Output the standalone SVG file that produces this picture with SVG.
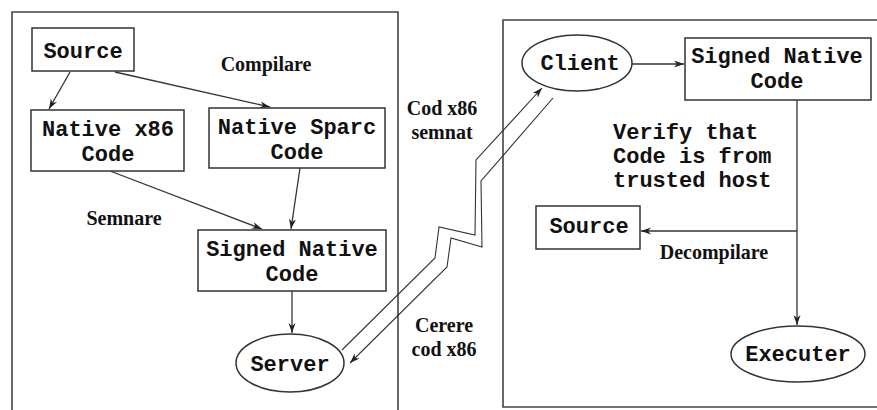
<svg xmlns="http://www.w3.org/2000/svg" width="877" height="410" viewBox="0 0 877 410">
<defs>
<marker id="arr" viewBox="0 0 10 8" refX="10" refY="4" markerWidth="10" markerHeight="8" markerUnits="userSpaceOnUse" orient="auto">
<path d="M0,0.5 L10,4 L0,7.5 L3,4 z" fill="#222"/>
</marker>
<style>
.panel{fill:none;stroke:#444;stroke-width:1.6}
.box{fill:#fff;stroke:#333;stroke-width:1.5}
.node{font-family:"Liberation Mono","DejaVu Sans Mono",monospace;font-weight:bold;font-size:22px;fill:#111;text-anchor:middle}
.lbl{font-family:"Liberation Serif","DejaVu Serif",serif;font-weight:bold;font-size:20px;fill:#111;text-anchor:middle}
.con{fill:none;stroke:#333;stroke-width:1.3}
.zig{fill:none;stroke:#333;stroke-width:1.1}
</style>
</defs>
<rect width="877" height="410" fill="#fff"/>
<g id="panels">
<path class="panel" d="M12,412 V12 H398 V412"/>
<path class="panel" d="M880,20 H503 V407 H880"/>
</g>
<g id="connectors">
<line class="con" x1="70" y1="72" x2="49" y2="109" marker-end="url(#arr)"/>
<line class="con" x1="115" y1="72" x2="270" y2="107" marker-end="url(#arr)"/>
<line class="con" x1="110" y1="171" x2="262" y2="229" marker-end="url(#arr)"/>
<line class="con" x1="300" y1="168" x2="291" y2="229" marker-end="url(#arr)"/>
<line class="con" x1="292" y1="291" x2="292" y2="333" marker-end="url(#arr)"/>
<line class="con" x1="632" y1="64" x2="684" y2="64" marker-end="url(#arr)"/>
<line class="con" x1="797" y1="100" x2="797" y2="325" marker-end="url(#arr)"/>
<line class="con" x1="797" y1="231" x2="641" y2="231" marker-end="url(#arr)"/>
<polyline class="zig" points="342,350 435,258 439,227 475,235 476,160 542,88" marker-end="url(#arr)"/>
<polyline class="zig" points="553,98 481,181 482,247 451,238 447,267 350,363" marker-end="url(#arr)"/>
</g>
<g id="labels">
<text class="lbl" x="266" y="71">Compilare</text>
<text class="lbl" x="124" y="225">Semnare</text>
<text class="lbl" x="442" y="115">Cod x86</text>
<text class="lbl" x="442" y="139">semnat</text>
<text class="lbl" x="444" y="332">Cerere</text>
<text class="lbl" x="444" y="356">cod x86</text>
<text class="lbl" x="714" y="259">Decompilare</text>
</g>
<g id="source-left">
<rect class="box" x="32" y="28" width="102" height="43"/>
<text class="node" x="83" y="58">Source</text>
</g>
<g id="native-x86">
<rect class="box" x="31" y="110" width="153" height="61"/>
<text class="node" x="108" y="136">Native x86</text>
<text class="node" x="108" y="161">Code</text>
</g>
<g id="native-sparc">
<rect class="box" x="209" y="108" width="176" height="60"/>
<text class="node" x="297" y="134">Native Sparc</text>
<text class="node" x="297" y="159">Code</text>
</g>
<g id="signed-left">
<rect class="box" x="198" y="230" width="188" height="61"/>
<text class="node" x="292" y="256">Signed Native</text>
<text class="node" x="292" y="281">Code</text>
</g>
<g id="server">
<ellipse class="box" cx="290" cy="363" rx="54" ry="29"/>
<text class="node" x="290" y="371">Server</text>
</g>
<g id="client">
<ellipse class="box" cx="577" cy="63" rx="55" ry="28"/>
<text class="node" x="580" y="70">Client</text>
</g>
<g id="signed-right">
<rect class="box" x="685" y="38" width="186" height="62"/>
<text class="node" x="777" y="63">Signed Native</text>
<text class="node" x="777" y="88">Code</text>
</g>
<g id="verify-text">
<text class="node" style="text-anchor:start" x="613" y="139">Verify that</text>
<text class="node" style="text-anchor:start" x="613" y="163">Code is from</text>
<text class="node" style="text-anchor:start" x="613" y="187">trusted host</text>
</g>
<g id="source-right">
<rect class="box" x="536" y="206" width="104" height="43"/>
<text class="node" x="589" y="233">Source</text>
</g>
<g id="executer">
<ellipse class="box" cx="798" cy="354" rx="67" ry="28"/>
<text class="node" x="798" y="361">Executer</text>
</g>
</svg>
